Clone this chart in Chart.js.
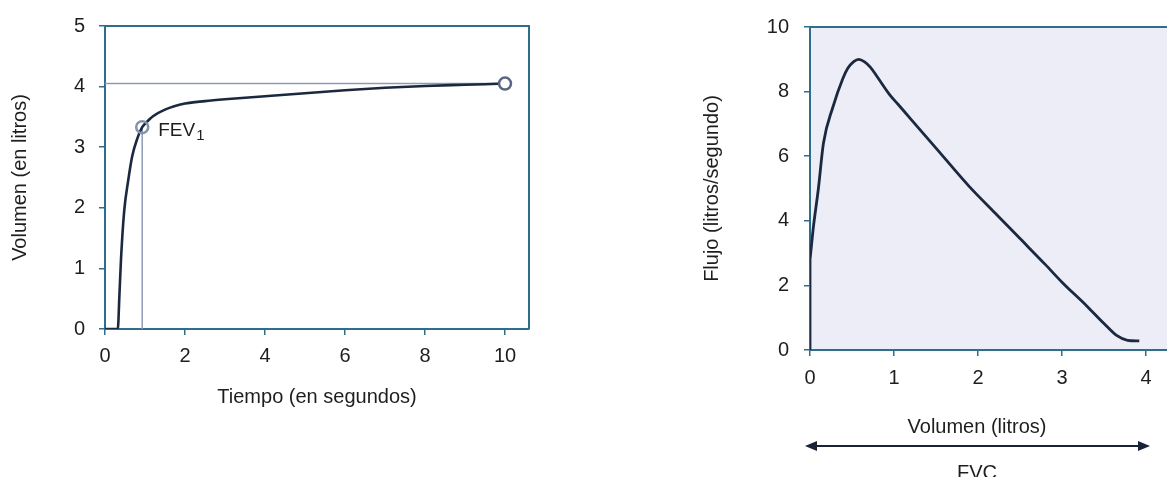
<!DOCTYPE html>
<html lang="es">
<head>
<meta charset="utf-8">
<title>Espirometría: volumen-tiempo y flujo-volumen</title>
<script src="https://cdn.jsdelivr.net/npm/chart.js@4.4.1/dist/chart.umd.min.js"></script>
<style>
  html, body { margin: 0; padding: 0; background: #ffffff; overflow: hidden; width: 1167px; height: 477px; }
  #volTiempo { position: absolute; left: 0; top: 0; }
  #flujoVol  { position: absolute; left: 690px; top: 0; }
</style>
</head>
<body>
<canvas id="volTiempo" width="560" height="420"></canvas>
<canvas id="flujoVol" width="520" height="477"></canvas>
<script>
// Espirograma: volumen espirado (L) frente al tiempo (s)
const tiempo  = [0, 0.32, 0.36, 0.40, 0.48, 0.58, 0.68, 0.80, 0.93, 1.05, 1.2, 1.5, 2.0, 2.5, 3.0, 4.0, 5.0, 6.0, 7.0, 8.0, 9.0, 10.0];
const volumen = [0, 0, 0.55, 1.15, 1.95, 2.45, 2.85, 3.13, 3.33, 3.42, 3.51, 3.62, 3.72, 3.76, 3.79, 3.84, 3.89, 3.94, 3.98, 4.01, 4.03, 4.05];
const puntoFEV1 = [0.93, 3.33];   // [tiempo, volumen] al primer segundo
const puntoFVC  = [10.0, 4.05];   // [tiempo, volumen] al final de la espiración
const ticksTiempo  = [0, 2, 4, 6, 8, 10];
const ticksVolumen = [0, 1, 2, 3, 4, 5];

// Curva flujo-volumen: flujo (L/s) frente al volumen espirado (L)
const volumenEsp = [0, 0, 0.02, 0.04, 0.10, 0.16, 0.27, 0.39, 0.45, 0.52, 0.58, 0.65, 0.72, 0.80, 0.95, 1.05, 1.20, 1.50, 1.90, 2.20, 2.50, 2.80, 3.00, 3.30, 3.50, 3.65, 3.78, 3.92];
const flujo      = [0, 2.8, 3.3, 3.8, 5.0, 6.4, 7.5, 8.4, 8.72, 8.93, 9.0, 8.92, 8.75, 8.46, 7.9, 7.6, 7.15, 6.25, 5.05, 4.25, 3.45, 2.65, 2.1, 1.35, 0.82, 0.45, 0.3, 0.28];
const ticksVolumenEsp = [0, 1, 2, 3, 4];
const ticksFlujo      = [0, 2, 4, 6, 8, 10];

const AXIS  = '#2d6f8b';
const INK   = '#1b2940';
const GUIDE = '#8f9bb6';
const TEXT  = '#1e1e1e';
const FONT  = "'Liberation Sans', Arial, sans-serif";

Chart.defaults.font.family = FONT;
Chart.defaults.color = TEXT;

const puntos = (xs, ys) => xs.map((x, i) => ({ x: x, y: ys[i] }));
const fijarTicks = valores => scale => { scale.ticks = valores.map(v => ({ value: v })); };

function eje(valores, extra) {
  return Object.assign({
    type: 'linear',
    afterBuildTicks: fijarTicks(valores),
    grid: { drawOnChartArea: false, drawTicks: true, tickLength: 6, color: AXIS, lineWidth: 1.5 },
    border: { display: true, color: AXIS, width: 2 },
    ticks: { font: { size: 20 }, color: TEXT }
  }, extra);
}

// Marco del área de trazado: fondo opcional y bordes superior/derecho
function marco(fondo, derecha) {
  return {
    id: 'marco',
    beforeDraw(chart) {
      if (!fondo) return;
      const { ctx, chartArea: a } = chart;
      ctx.save();
      ctx.fillStyle = fondo;
      ctx.fillRect(a.left, a.top, a.right - a.left, a.bottom - a.top);
      ctx.restore();
    },
    beforeDatasetsDraw(chart) {
      const { ctx, chartArea: a } = chart;
      ctx.save();
      ctx.strokeStyle = AXIS;
      ctx.lineWidth = 2;
      ctx.beginPath();
      ctx.moveTo(a.left, a.top);
      ctx.lineTo(a.right, a.top);
      if (derecha) ctx.lineTo(a.right, a.bottom);
      ctx.stroke();
      ctx.restore();
    }
  };
}

// Etiqueta FEV1 junto a su marcador
const etiquetaFEV1 = {
  id: 'etiquetaFEV1',
  afterDatasetsDraw(chart) {
    const { ctx, scales: { x, y } } = chart;
    const px = x.getPixelForValue(puntoFEV1[0]);
    const py = y.getPixelForValue(puntoFEV1[1]);
    ctx.save();
    ctx.fillStyle = TEXT;
    ctx.textAlign = 'left';
    ctx.textBaseline = 'alphabetic';
    ctx.font = '19px ' + FONT;
    const x0 = px + 16, base = py + 9;
    ctx.fillText('FEV', x0, base);
    const w = ctx.measureText('FEV').width;
    ctx.font = '15px ' + FONT;
    ctx.fillText('1', x0 + w + 1, base + 4);
    ctx.restore();
  }
};

// Título del eje de volumen y flecha de la FVC bajo la curva flujo-volumen
const rotuloFVC = {
  id: 'rotuloFVC',
  afterDatasetsDraw(chart) {
    const { ctx, scales: { x } } = chart;
    const x0 = x.getPixelForValue(ticksVolumenEsp[0]);
    const x1 = x.getPixelForValue(ticksVolumenEsp[ticksVolumenEsp.length - 1]);
    const cx = (x0 + x1) / 2;
    ctx.save();
    ctx.fillStyle = TEXT;
    ctx.textAlign = 'center';
    ctx.textBaseline = 'alphabetic';
    ctx.font = '20px ' + FONT;
    ctx.fillText('Volumen (litros)', cx - 1, 433);
    ctx.fillText('FVC', cx - 1, 479);

    const ay = 446, a0 = x0 - 5, a1 = x1 + 4, largo = 12, media = 5;
    ctx.strokeStyle = '#1a2335';
    ctx.fillStyle = '#1a2335';
    ctx.lineWidth = 2;
    ctx.beginPath();
    ctx.moveTo(a0 + largo - 2, ay);
    ctx.lineTo(a1 - largo + 2, ay);
    ctx.stroke();
    ctx.beginPath();
    ctx.moveTo(a0, ay); ctx.lineTo(a0 + largo, ay - media); ctx.lineTo(a0 + largo, ay + media); ctx.closePath();
    ctx.fill();
    ctx.beginPath();
    ctx.moveTo(a1, ay); ctx.lineTo(a1 - largo, ay - media); ctx.lineTo(a1 - largo, ay + media); ctx.closePath();
    ctx.fill();
    ctx.restore();
  }
};

new Chart(document.getElementById('volTiempo'), {
  type: 'scatter',
  data: {
    datasets: [
      { data: [{ x: puntoFEV1[0], y: puntoFEV1[1] }], pointRadius: 6, pointBorderWidth: 2.5,
        borderColor: '#8592ae', backgroundColor: 'rgba(255,255,255,0)', order: 0 },
      { data: [{ x: puntoFVC[0], y: puntoFVC[1] }], pointRadius: 6, pointBorderWidth: 2.5,
        borderColor: '#5a6580', backgroundColor: '#ffffff', order: 0 },
      { data: puntos(tiempo, volumen), showLine: true, borderColor: INK, borderWidth: 2.6,
        pointRadius: 0, cubicInterpolationMode: 'monotone', order: 1 },
      { data: [{ x: 0, y: puntoFVC[1] }, { x: puntoFVC[0], y: puntoFVC[1] }], showLine: true,
        borderColor: GUIDE, borderWidth: 1.5, pointRadius: 0, order: 2 },
      { data: [{ x: puntoFEV1[0], y: 0 }, { x: puntoFEV1[0], y: puntoFEV1[1] }], showLine: true,
        borderColor: GUIDE, borderWidth: 1.5, pointRadius: 0, order: 2 }
    ]
  },
  options: {
    responsive: false,
    animation: false,
    events: [],
    layout: { padding: { top: 24, right: 31, left: 0, bottom: 0 } },
    plugins: { legend: { display: false }, tooltip: { enabled: false } },
    scales: {
      x: eje(ticksTiempo, {
        min: 0, max: 10.6,
        afterFit: s => { s.height = 91; },
        ticks: { font: { size: 20 }, color: TEXT, padding: 9 },
        title: { display: true, text: 'Tiempo (en segundos)', color: TEXT, font: { size: 20 }, padding: { top: 0, bottom: 11 } }
      }),
      y: eje(ticksVolumen, {
        min: 0, max: 5,
        afterFit: s => { s.width = 105; },
        ticks: { font: { size: 20 }, color: TEXT, padding: 14 },
        title: { display: true, text: 'Volumen (en litros)', color: TEXT, font: { size: 20 }, padding: { top: 8, bottom: 0 } }
      })
    }
  },
  plugins: [marco(null, true), etiquetaFEV1]
});

// El arranque vertical (volumen 0) se traza aparte; el resto de la curva es monótono en x
const curvaFV = puntos(volumenEsp, flujo);
new Chart(document.getElementById('flujoVol'), {
  type: 'scatter',
  data: {
    datasets: [
      { data: curvaFV.slice(0, 2), showLine: true, borderColor: INK, borderWidth: 2.8, pointRadius: 0 },
      { data: curvaFV.slice(1), showLine: true, borderColor: INK, borderWidth: 2.8,
        pointRadius: 0, cubicInterpolationMode: 'monotone' }
    ]
  },
  options: {
    responsive: false,
    animation: false,
    events: [],
    layout: { padding: { top: 23, right: 22, left: 0, bottom: 0 } },
    plugins: { legend: { display: false }, tooltip: { enabled: false } },
    scales: {
      x: eje(ticksVolumenEsp, {
        min: 0, max: 4.5,
        afterFit: s => { s.height = 127; },
        ticks: { font: { size: 20 }, color: TEXT, padding: 10 }
      }),
      y: eje(ticksFlujo, {
        min: 0, max: 10,
        afterFit: s => { s.width = 120; },
        ticks: { font: { size: 20 }, color: TEXT, padding: 15 },
        title: { display: true, text: 'Flujo (litros/segundo)', color: TEXT, font: { size: 20 }, padding: { top: 10, bottom: 0 } }
      })
    }
  },
  plugins: [marco('#ecedf6', false), rotuloFVC]
});
</script>
</body>
</html>
